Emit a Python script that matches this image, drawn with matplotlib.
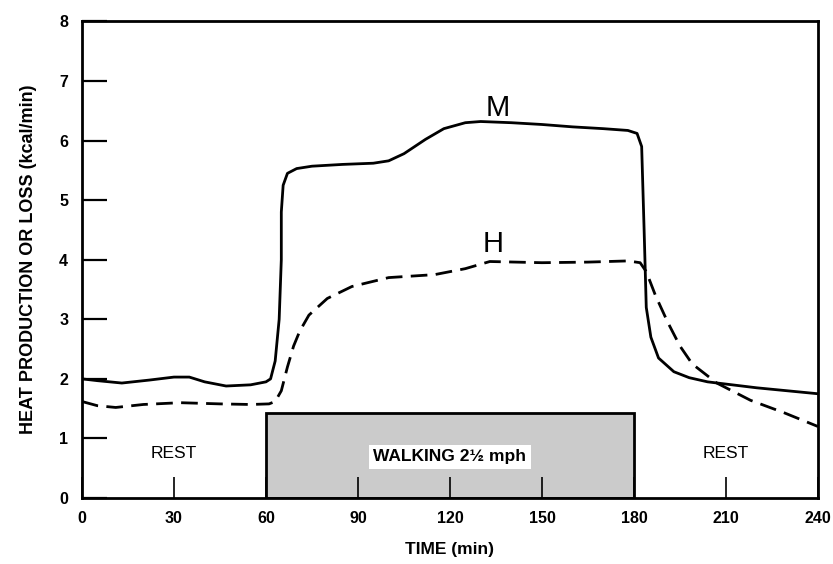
import numpy as np
from matplotlib import pyplot as plt
from matplotlib.patches import Rectangle

# ================================================================
# 0. Section: DATA
# ================================================================
m_time = [0, 5, 13, 22, 30, 35, 40, 47, 55, 60, 61.5, 63, 64.3, 65.0, 65.0,
          65.6, 67, 70, 75, 85, 95, 100, 105, 112, 118, 125, 130, 140, 150,
          160, 170, 178, 181, 182.5, 183.3, 184, 185.5, 188, 193, 198, 204,
          212, 220, 230, 240]
m_heat = [2.0, 1.97, 1.93, 1.98, 2.03, 2.03, 1.95, 1.88, 1.9, 1.95, 2.0, 2.3,
          3.0, 4.0, 4.8, 5.25, 5.45, 5.53, 5.57, 5.6, 5.62, 5.66, 5.78, 6.02,
          6.2, 6.3, 6.32, 6.3, 6.27, 6.23, 6.2, 6.17, 6.12, 5.9, 4.5, 3.2,
          2.7, 2.35, 2.12, 2.02, 1.95, 1.9, 1.85, 1.8, 1.75]

h_time = [0, 5, 11, 20, 32, 45, 55, 61, 63, 65, 67, 69, 71, 74, 80, 88, 100,
          115, 125, 133, 150, 165, 178, 182, 184, 187, 191, 195, 199, 207,
          218, 229, 240]
h_heat = [1.62, 1.55, 1.52, 1.57, 1.6, 1.58, 1.57, 1.58, 1.62, 1.8, 2.2, 2.55,
          2.8, 3.07, 3.35, 3.55, 3.7, 3.75, 3.85, 3.97, 3.95, 3.96, 3.98,
          3.95, 3.8, 3.4, 2.95, 2.55, 2.25, 1.93, 1.64, 1.43, 1.2]

x_ticks = [0, 30, 60, 90, 120, 150, 180, 210, 240]
y_ticks = [0, 1, 2, 3, 4, 5, 6, 7, 8]

walk_start, walk_end, walk_height = 60, 180, 1.43

# ================================================================
# 1. Section: PLOT
# ================================================================
plt.rcParams["font.family"] = ["Liberation Sans", "DejaVu Sans"]

fig = plt.figure(figsize=(8.33, 5.64), dpi=100)
ax = fig.add_axes((0.0984, 0.117, 0.8836, 0.845))

ax.plot(m_time, m_heat, color="black", lw=2.0, solid_capstyle="round")
ax.plot(h_time, h_heat, color="black", lw=2.0, dashes=(6, 3))

ax.add_patch(Rectangle((walk_start, 0), walk_end - walk_start, walk_height,
                       facecolor="#cbcbcb", edgecolor="black", lw=2.0,
                       zorder=1))
ax.set_axisbelow(False)

ax.text(120, 0.69, "WALKING 2½ mph", ha="center", va="center",
        fontsize=12.5, fontweight="bold",
        bbox=dict(facecolor="white", edgecolor="none", pad=3))
ax.text(30, 0.74, "REST", ha="center", va="center", fontsize=12.5)
ax.text(210, 0.74, "REST", ha="center", va="center", fontsize=12.5)
ax.text(135.5, 6.54, "M", ha="center", va="center", fontsize=21)
ax.text(134, 4.27, "H", ha="center", va="center", fontsize=21)

ax.set_xlim(0, 240)
ax.set_ylim(0, 8)
ax.set_xticks(x_ticks)
ax.set_yticks(y_ticks)
ax.tick_params(axis="x", direction="in", length=15, width=1.2, pad=9,
               labelsize=11.5)
ax.tick_params(axis="y", direction="in", length=18, width=1.6, pad=10,
               labelsize=11.5)
for label in ax.get_xticklabels() + ax.get_yticklabels():
    label.set_fontweight("bold")

for spine in ax.spines.values():
    spine.set_linewidth(2.0)

ax.set_xlabel("TIME (min)", fontsize=12.5, fontweight="bold", labelpad=12)
ax.set_ylabel("HEAT PRODUCTION OR LOSS (kcal/min)", fontsize=13,
              fontweight="bold", labelpad=16)

fig.savefig("out.png", dpi=100)
